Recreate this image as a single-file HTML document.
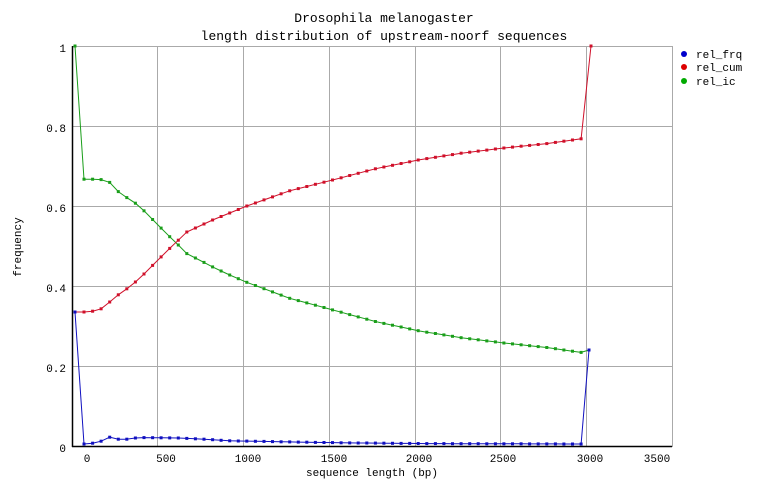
<!DOCTYPE html>
<html><head><meta charset="utf-8"><style>
html,body{margin:0;padding:0;background:#fff;}
svg{display:block;font-family:"Liberation Mono","DejaVu Sans Mono",monospace;}
</style></head><body>
<svg id="s" width="768" height="498" xmlns="http://www.w3.org/2000/svg">
<rect width="768" height="498" fill="#fff"/>
<text x="384" y="22" font-size="13" text-anchor="middle">Drosophila melanogaster</text>
<text x="384" y="40" font-size="13" text-anchor="middle">length distribution of upstream-noorf sequences</text>
<g stroke="#aaa" stroke-width="1" fill="none">
<rect x="72.5" y="46.5" width="600" height="400"/>
<line x1="72" y1="126.5" x2="672" y2="126.5"/>
<line x1="72" y1="206.5" x2="672" y2="206.5"/>
<line x1="72" y1="286.5" x2="672" y2="286.5"/>
<line x1="72" y1="366.5" x2="672" y2="366.5"/>
<line x1="157.5" y1="46" x2="157.5" y2="446"/>
<line x1="243.5" y1="46" x2="243.5" y2="446"/>
<line x1="329.5" y1="46" x2="329.5" y2="446"/>
<line x1="415.5" y1="46" x2="415.5" y2="446"/>
<line x1="500.5" y1="46" x2="500.5" y2="446"/>
<line x1="586.5" y1="46" x2="586.5" y2="446"/>
</g>
<line x1="72.5" y1="46" x2="72.5" y2="447" stroke="#000" stroke-width="1.5"/>
<line x1="72" y1="446.5" x2="672" y2="446.5" stroke="#000" stroke-width="1.5"/>
<g font-size="11" text-anchor="end">
<text x="66" y="52">1</text><text x="66" y="132">0.8</text><text x="66" y="212">0.6</text>
<text x="66" y="292">0.4</text><text x="66" y="372">0.2</text><text x="66" y="452">0</text>
</g>
<g font-size="11" text-anchor="middle">
<text x="87" y="462">0</text><text x="166" y="462">500</text><text x="248" y="462">1000</text>
<text x="334" y="462">1500</text><text x="419" y="462">2000</text><text x="503" y="462">2500</text>
<text x="590" y="462">3000</text><text x="657" y="462">3500</text>
</g>
<text x="372" y="476" font-size="11" text-anchor="middle">sequence length (bp)</text>
<text transform="translate(21,247) rotate(-90)" font-size="11" text-anchor="middle">frequency</text>
<g font-size="11">
<circle cx="684" cy="54" r="3" fill="#00c"/><text x="696" y="58">rel_frq</text>
<circle cx="684" cy="67" r="3" fill="#d00"/><text x="696" y="71">rel_cum</text>
<circle cx="684" cy="81" r="3" fill="#0a0"/><text x="696" y="85">rel_ic</text>
</g>
<g id="d"></g>
</svg>
<script>
function interp(a,i){for(var k=0;k<a.length-1;k++){if(i>=a[k][0]&&i<=a[k+1][0]){var t=(i-a[k][0])/(a[k+1][0]-a[k][0]);return a[k][1]+t*(a[k+1][1]-a[k][1]);}}return a[a.length-1][1];}
var R=[[0,.335],[1,.337],[2,.343],[3,.36],[4,.378],[5,.393],[6,.41],[7,.43],[9.8,.49],[12,.535],[15,.565],[19,.60],[24,.638],[29,.665],[34,.693],[39,.715],[44,.732],[49,.745],[54,.756],[57,.765],[58,.768]];
var B=[[0,.005],[1,.007],[2,.012],[3,.022],[4,.017],[5,.017],[6,.02],[7,.021],[11,.02],[14,.017],[17,.013],[22,.011],[30,.008],[40,.006],[58,.005]];
var red=[[75,.335]],blue=[[75,.335]],green=[[75,1]];
for(var i=0;i<=58;i++){var x=84+i*8.57;var r=interp(R,i),b=interp(B,i);red.push([x,r]);blue.push([x,b]);green.push([x,1-r+b-0.003]);}
green[1][1]=.667;green[2][1]=.667;
red.push([591,1]);blue.push([589,.24]);green.push([589,.24]);
var g=document.getElementById('d'),h='';
function ser(a,c){var p=a.map(function(q){return q[0].toFixed(1)+','+(446-q[1]*400).toFixed(1)}).join(' ');
h+='<polyline points="'+p+'" fill="none" stroke="'+c+'" stroke-width="1"/>';
a.forEach(function(q){h+='<rect x="'+(q[0]-1.5).toFixed(1)+'" y="'+(446-q[1]*400-1.5).toFixed(1)+'" width="3" height="3" fill="'+c+'"/>';});}
ser(green,'#1a9e1a');ser(red,'#d0102a');ser(blue,'#1010c0');
g.innerHTML=h;
</script>
</body></html>
